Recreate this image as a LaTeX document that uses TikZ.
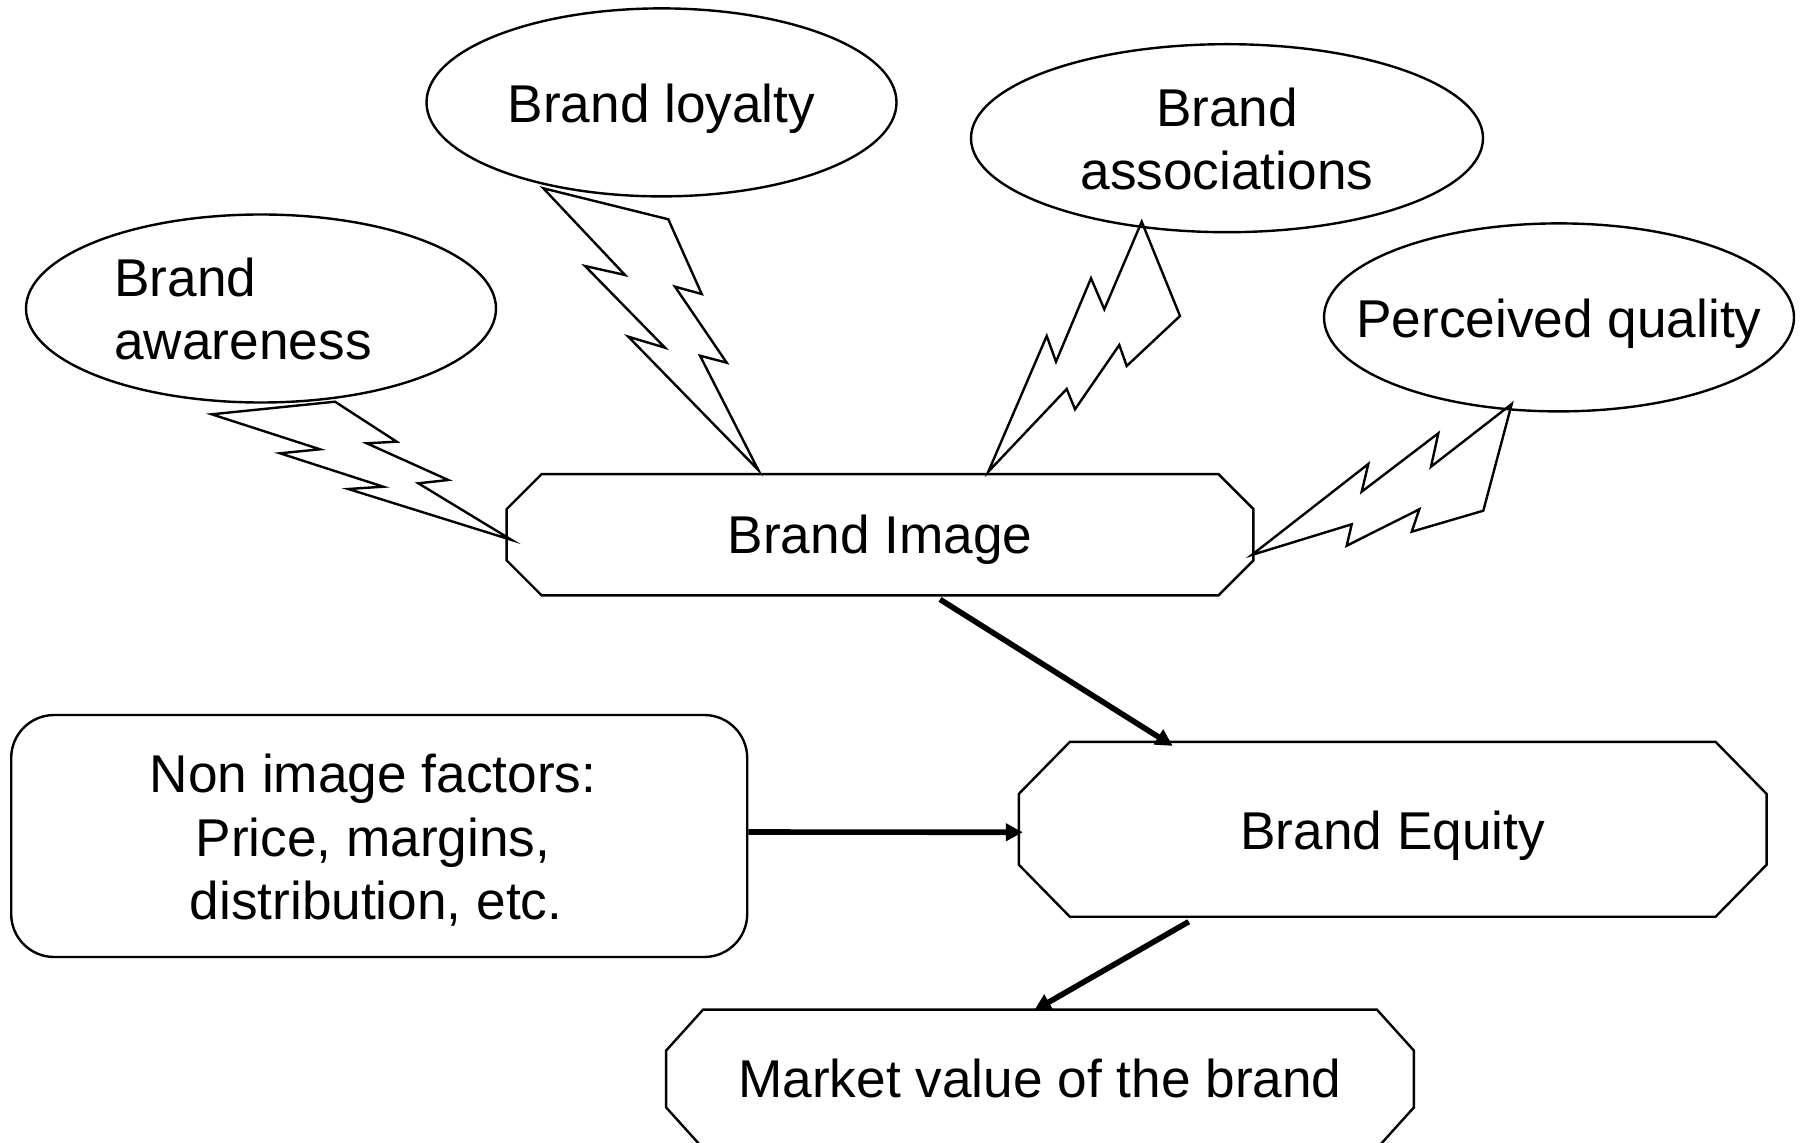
\documentclass[tikz,border=0pt]{standalone}
\usepackage{fontspec}
\setmainfont{Liberation Sans}
\usetikzlibrary{shapes.geometric,arrows.meta,calc}
\newcommand\octbox[3]{\draw[outl] ([xshift=#2]#1.north west) -- ([xshift=-#2]#1.north east) -- ([yshift=-#3]#1.north east) -- ([yshift=#3]#1.south east) -- ([xshift=-#2]#1.south east) -- ([xshift=#2]#1.south west) -- ([yshift=#3]#1.south west) -- ([yshift=-#3]#1.north west) -- cycle;}
\begin{document}
\begin{tikzpicture}[x=0.5pt,y=-0.5pt,
 outl/.style={line width=1.2pt,draw=black},
 oval/.style={ellipse,outl,inner sep=0pt,minimum height=94pt},
 shp/.style={rectangle,draw=none,inner sep=0pt},
 txt/.style={inner sep=0pt,anchor=base,font=\fontsize{26.6}{31.85}\selectfont},
 bolt/.style={line width=1.2pt,line join=miter},
 arr/.style={line width=2.8pt,-{Triangle[length=8.5pt,width=8.5pt]}}]
\clip (0,0) rectangle (1802,1143);
\fill[white] (0,0) rectangle (1802,1143);

% ellipses
\node[oval,minimum width=235pt] (aw) at (261,308.5) {};
\node[oval,minimum width=235pt] (loy) at (661.5,102.4) {};
\node[oval,minimum width=256pt] (ass) at (1227,138.2) {};
\node[oval,minimum width=235pt] (pq) at (1559,317.4) {};

% boxes
\node[shp,minimum width=373pt,minimum height=60.25pt] (img) at (880,534.75) {};
\octbox{img}{17.5pt}{17.5pt}
\node[shp,minimum width=373.5pt,minimum height=87pt] (eq) at (1392.7,829.3) {};
\octbox{eq}{25.5pt}{26pt}
\node[shp,minimum width=373.5pt,minimum height=69pt] (mv) at (1040,1079) {};
\octbox{mv}{18.5pt}{20.5pt}
\node[rectangle,outl,rounded corners=21.5pt,inner sep=0pt,minimum width=368pt,minimum height=121pt] (nif) at (379.2,836) {};

% lightning bolts
\draw[bolt] (335,401.7) -- (396.7,441.7) -- (366.7,443.3) -- (448.3,480) -- (418.3,483.3) -- (511.7,540) -- (348.3,489) -- (383.3,486.7) -- (280,453.3) -- (320,449.3) -- (211.7,414.3) -- cycle;
\draw[bolt] (543.3,188.3) -- (668.3,219.3) -- (701.7,294) -- (675,286.7) -- (726.7,362.7) -- (700,355.7) -- (758.3,470) -- (628.3,336.7) -- (665,347.7) -- (585,266) -- (625,275) -- cycle;
\draw[bolt] (1141.7,221.7) -- (1180,316) -- (1126.7,366) -- (1119.3,345) -- (1075,409.3) -- (1066.7,389) -- (988.3,471.7) -- (1046.7,336) -- (1056,361.7) -- (1091,278.3) -- (1104.3,309.3) -- cycle;
\draw[bolt] (1511.7,404) -- (1483.3,510.7) -- (1411.7,531.7) -- (1419.3,509.3) -- (1346.7,545.7) -- (1351.7,524.3) -- (1251.7,555) -- (1368.3,464) -- (1361.7,491.7) -- (1438.3,433.3) -- (1431,466.7) -- cycle;

% texts
\node[txt,anchor=base west] (awt1) at (114,297) {Brand};
\node[txt,anchor=base west] (awt2) at (114,360) {awareness};
\node[txt] (loyt) at (661.5,123) {Brand loyalty};
\node[txt] (asst1) at (1227,127) {Brand};
\node[txt] (asst2) at (1227,190) {associations};
\node[txt] (pqt) at (1559,337.5) {Perceived quality};
\node[txt] (imgt) at (880,553.8) {Brand Image};
\node[txt] (eqt) at (1392.7,849.3) {Brand Equity};
\node[txt] (mvt) at (1040,1097) {Market value of the brand};
\node[txt] (nift1) at (373,792) {Non image factors:};
\node[txt] (nift2) at (373,856) {Price, margins,};
\node[txt] (nift3) at (376,919.5) {distribution, etc.};

% arrows
\draw[arr] ($(img.south)+(60,4)$) -- ($(eq.north)+(-220,4)$);
\draw[arr] ($(nif.east)+(0,-4)$) -- ($(eq.west)+(4,3)$);
\draw[arr] ($(eq.south)+(-204,5)$) -- ($(mv.north)+(-6,1)$);
\end{tikzpicture}
\end{document}
